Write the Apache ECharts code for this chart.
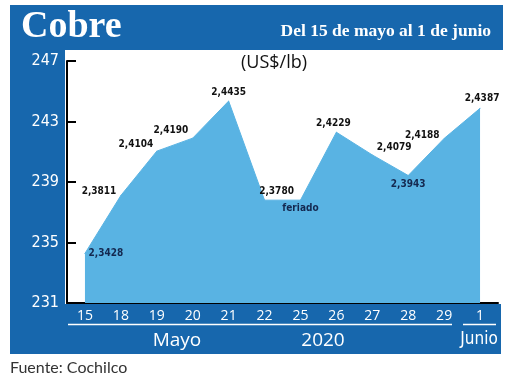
<!DOCTYPE html>
<html><head><meta charset="utf-8">
<script src="https://cdn.jsdelivr.net/npm/echarts@6/dist/echarts.min.js"></script>
<style>html,body{margin:0;padding:0;background:#fff}#c{width:520px;height:380px}</style>
</head><body><div id="c"></div>
<script>
const categories = ['15','18','19','20','21','22','25','26','27','28','29','1'];
const values = [234.28, 238.11, 241.04, 241.90, 244.35, 237.80, 237.80, 242.29, 240.79, 239.43, 241.88, 243.87];
const yTicks = [231, 235, 239, 243, 247];
const holidayIndex = 6;
const holidayLabel = 'feriado';
const monthLabels = ['Mayo', '2020', 'Junio'];

const BLUE = '#1767ad';
const AREA = '#59b3e3';
const NAVY = '#14284f';
const NARROW = "'Liberation Sans Narrow','DejaVu Sans Condensed',sans-serif";

// label placement per point (style only)
const labelPlace = [
  {position:'right', distance:3, offset:[0,0], color:NAVY},
  {position:'left', distance:4, offset:[0,-4]},
  {position:'left', distance:3, offset:[0,-7]},
  {position:'left', distance:4, offset:[0,-8]},
  {position:'top', distance:3, offset:[0,0]},
  {position:'top', distance:3, offset:[12,0]},
  {position:'bottom', distance:3, offset:[0,0], color:NAVY},
  {position:'top', distance:3, offset:[-3,0]},
  {position:'right', distance:4, offset:[0,-8]},
  {position:'bottom', distance:3, offset:[0,0], color:NAVY},
  {position:'left', distance:4, offset:[0,-3]},
  {position:'top', distance:4, offset:[2,0]}
];

const data = values.map((v, i) => ({
  value: v,
  label: Object.assign({
    show: true,
    formatter: i === holidayIndex ? holidayLabel : (v/100).toFixed(4).replace('.', ','),
    fontFamily: NARROW, fontWeight: 'bold', fontSize: 10, color: '#111'
  }, labelPlace[i])
}));

const chart = echarts.init(document.getElementById('c'));
chart.setOption({
  animation: false,
  backgroundColor: '#fff',
  grid: {left: 67, right: 22, top: 61, bottom: 77, containLabel: false},
  xAxis: {
    type: 'category', data: categories, boundaryGap: true,
    axisLine: {show: true, lineStyle: {color: '#000', width: 2}},
    axisTick: {show: false},
    axisLabel: {color: '#fff', fontSize: 14, margin: 6, fontFamily: "'Open Sans',sans-serif", interval: 0},
    splitLine: {show: false}
  },
  yAxis: {
    type: 'value', min: yTicks[0], max: yTicks[yTicks.length-1], interval: yTicks[1]-yTicks[0],
    axisLine: {show: true, lineStyle: {color: '#000', width: 2}},
    axisTick: {show: true, inside: true, length: 9, lineStyle: {color: '#000', width: 2}},
    axisLabel: {color: '#fff', fontSize: 16, margin: 8, fontFamily: NARROW},
    splitLine: {show: false}
  },
  series: [{
    type: 'line', data: data,
    symbol: 'circle', symbolSize: 1, showSymbol: true,
    itemStyle: {color: AREA},
    lineStyle: {color: AREA, width: 1},
    areaStyle: {color: AREA, opacity: 1},
    z: 3
  }],
  graphic: [
    {type:'rect', z:-10, shape:{x:10, y:5, width:493, height:45}, style:{fill:BLUE}},
    {type:'rect', z:-10, shape:{x:10, y:50, width:55, height:255}, style:{fill:BLUE}},
    {type:'rect', z:-10, shape:{x:10, y:304, width:491, height:50}, style:{fill:BLUE}},
    {type:'text', z:10, style:{text:'Cobre', x:21, y:27, fill:'#fff', font:"bold 38px 'Liberation Serif', serif", textVerticalAlign:'middle'}},
    {type:'text', z:10, style:{text:'Del 15 de mayo al 1 de junio', x:491, y:31, fill:'#fff', font:"bold 17.5px 'Liberation Serif', serif", textAlign:'right', textVerticalAlign:'middle'}},
    {type:'text', z:10, style:{text:'(US$/lb)', x:274, y:63, fill:'#111', font:"18px 'Open Sans', sans-serif", textAlign:'center', textVerticalAlign:'middle'}},
    {type:'line', z:10, shape:{x1:68, y1:324.5, x2:452, y2:324.5}, style:{stroke:'#fff', lineWidth:1.5}},
    {type:'line', z:10, shape:{x1:463, y1:324.5, x2:496, y2:324.5}, style:{stroke:'#fff', lineWidth:1.5}},
    {type:'text', z:10, style:{text:monthLabels[0], x:177, y:341, fill:'#fff', font:"19px 'Open Sans', sans-serif", textAlign:'center', textVerticalAlign:'middle'}},
    {type:'text', z:10, style:{text:monthLabels[1], x:323, y:341, fill:'#fff', font:"19px 'Open Sans', sans-serif", textAlign:'center', textVerticalAlign:'middle'}},
    {type:'text', z:10, style:{text:monthLabels[2], x:479, y:340, fill:'#fff', font:"17px 'Liberation Sans Narrow', 'DejaVu Sans Condensed', sans-serif", textAlign:'center', textVerticalAlign:'middle'}},
    {type:'text', z:10, style:{text:'Fuente: Cochilco', x:10, y:368, fill:'#333', font:"16px Lato, sans-serif", textVerticalAlign:'middle'}}
  ]
});
</script></body></html>
